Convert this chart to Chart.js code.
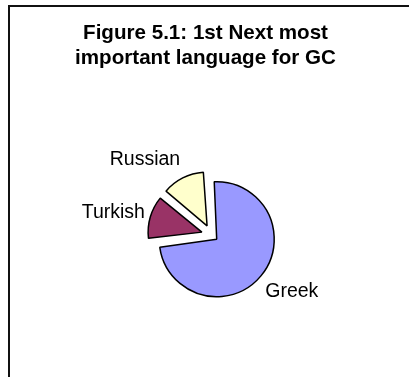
<!DOCTYPE html>
<html>
<head>
<meta charset="utf-8">
<script src="https://cdn.jsdelivr.net/npm/chart.js@4"></script>
<style>
  html, body { margin: 0; padding: 0; background: #fff; overflow: hidden; }
  #wrap { position: relative; width: 409px; height: 377px; }
  #frame { position: absolute; left: 8px; top: 5px; width: 500px; height: 500px;
           border-left: 2px solid #111; border-top: 2px solid #111; }
  canvas { position: absolute; left: 0; top: 0; }
</style>
</head>
<body>
<div id="wrap">
  <div id="frame"></div>
  <canvas id="c" width="409" height="377"></canvas>
</div>
<script>
// ---- data ----
const categories = ['Greek', 'Turkish', 'Russian'];
const values = [74, 13, 13];
const sliceColors = ['#9999FF', '#993366', '#FFFFCC'];
const titleLines = ['Figure 5.1: 1st Next most', 'important language for GC'];

// ---- styling ----
const FONT = '"Liberation Sans", Arial, Helvetica, sans-serif';
const EXPLODE = 13;          // desired pixel displacement of every slice
const LABEL_SIZE = 19.5;
const total = values.reduce((a, b) => a + b, 0);

// Chart.js translates an arc by offset/4*(1+fix); invert that so each slice moves EXPLODE px
function offsetFor(v) {
  const circ = v / total * Math.PI * 2;
  const fix = 1 - Math.sin(Math.min(Math.PI, circ));
  return 4 * EXPLODE / (1 + fix);
}

const titlePlugin = {
  id: 'customTitle',
  afterDraw(chart) {
    const ctx = chart.ctx;
    ctx.save();
    ctx.fillStyle = '#000';
    ctx.font = 'bold 20.6px ' + FONT;
    ctx.textAlign = 'center';
    ctx.textBaseline = 'alphabetic';
    ctx.fillText(titleLines[0], 205.5, 39);
    ctx.fillText(titleLines[1], 205.5, 64);
    ctx.restore();
  }
};

const labelPlugin = {
  id: 'outsideLabels',
  afterDatasetsDraw(chart) {
    const ctx = chart.ctx;
    const meta = chart.getDatasetMeta(0);
    ctx.save();
    ctx.font = LABEL_SIZE + 'px ' + FONT;
    ctx.fillStyle = '#000';
    ctx.textAlign = 'left';
    ctx.textBaseline = 'alphabetic';
    meta.data.forEach((arc, i) => {
      const p = arc.getProps(['x', 'y', 'startAngle', 'endAngle', 'outerRadius', 'circumference'], true);
      const off = (arc.options.offset || 0) / 4;
      const fix = 1 - Math.sin(Math.min(Math.PI, p.circumference));
      const t = off * (1 + fix);
      const mid = (p.startAngle + p.endAngle) / 2;
      const dx = Math.cos(mid), dy = Math.sin(mid);
      const cx = p.x + dx * t, cy = p.y + dy * t;
      const px = cx + dx * (p.outerRadius + 5.6);
      const py = cy + dy * (p.outerRadius + 11);
      const text = chart.data.labels[i];
      const w = ctx.measureText(text).width;
      const h = LABEL_SIZE * 1.117;
      const left = dx < 0 ? px - w : px;
      const top = py - h * (1 - dy) / 2;
      ctx.fillText(text, left, top + LABEL_SIZE * 0.905);
    });
    ctx.restore();
  }
};

new Chart(document.getElementById('c'), {
  type: 'pie',
  data: {
    labels: categories,
    datasets: [{
      data: values,
      backgroundColor: sliceColors,
      borderColor: '#000',
      borderWidth: 1.5,
      offset: values.map(offsetFor),
      hoverOffset: 0
    }]
  },
  options: {
    responsive: false,
    animation: false,
    devicePixelRatio: 1,
    rotation: -3.5,
    radius: 51,
    layout: { padding: { left: 14.4, right: 0, top: 93, bottom: 0 } },
    plugins: {
      legend: { display: false },
      title: { display: false },
      tooltip: { enabled: false }
    },
    events: []
  },
  plugins: [labelPlugin, titlePlugin]
});
</script>
</body>
</html>
